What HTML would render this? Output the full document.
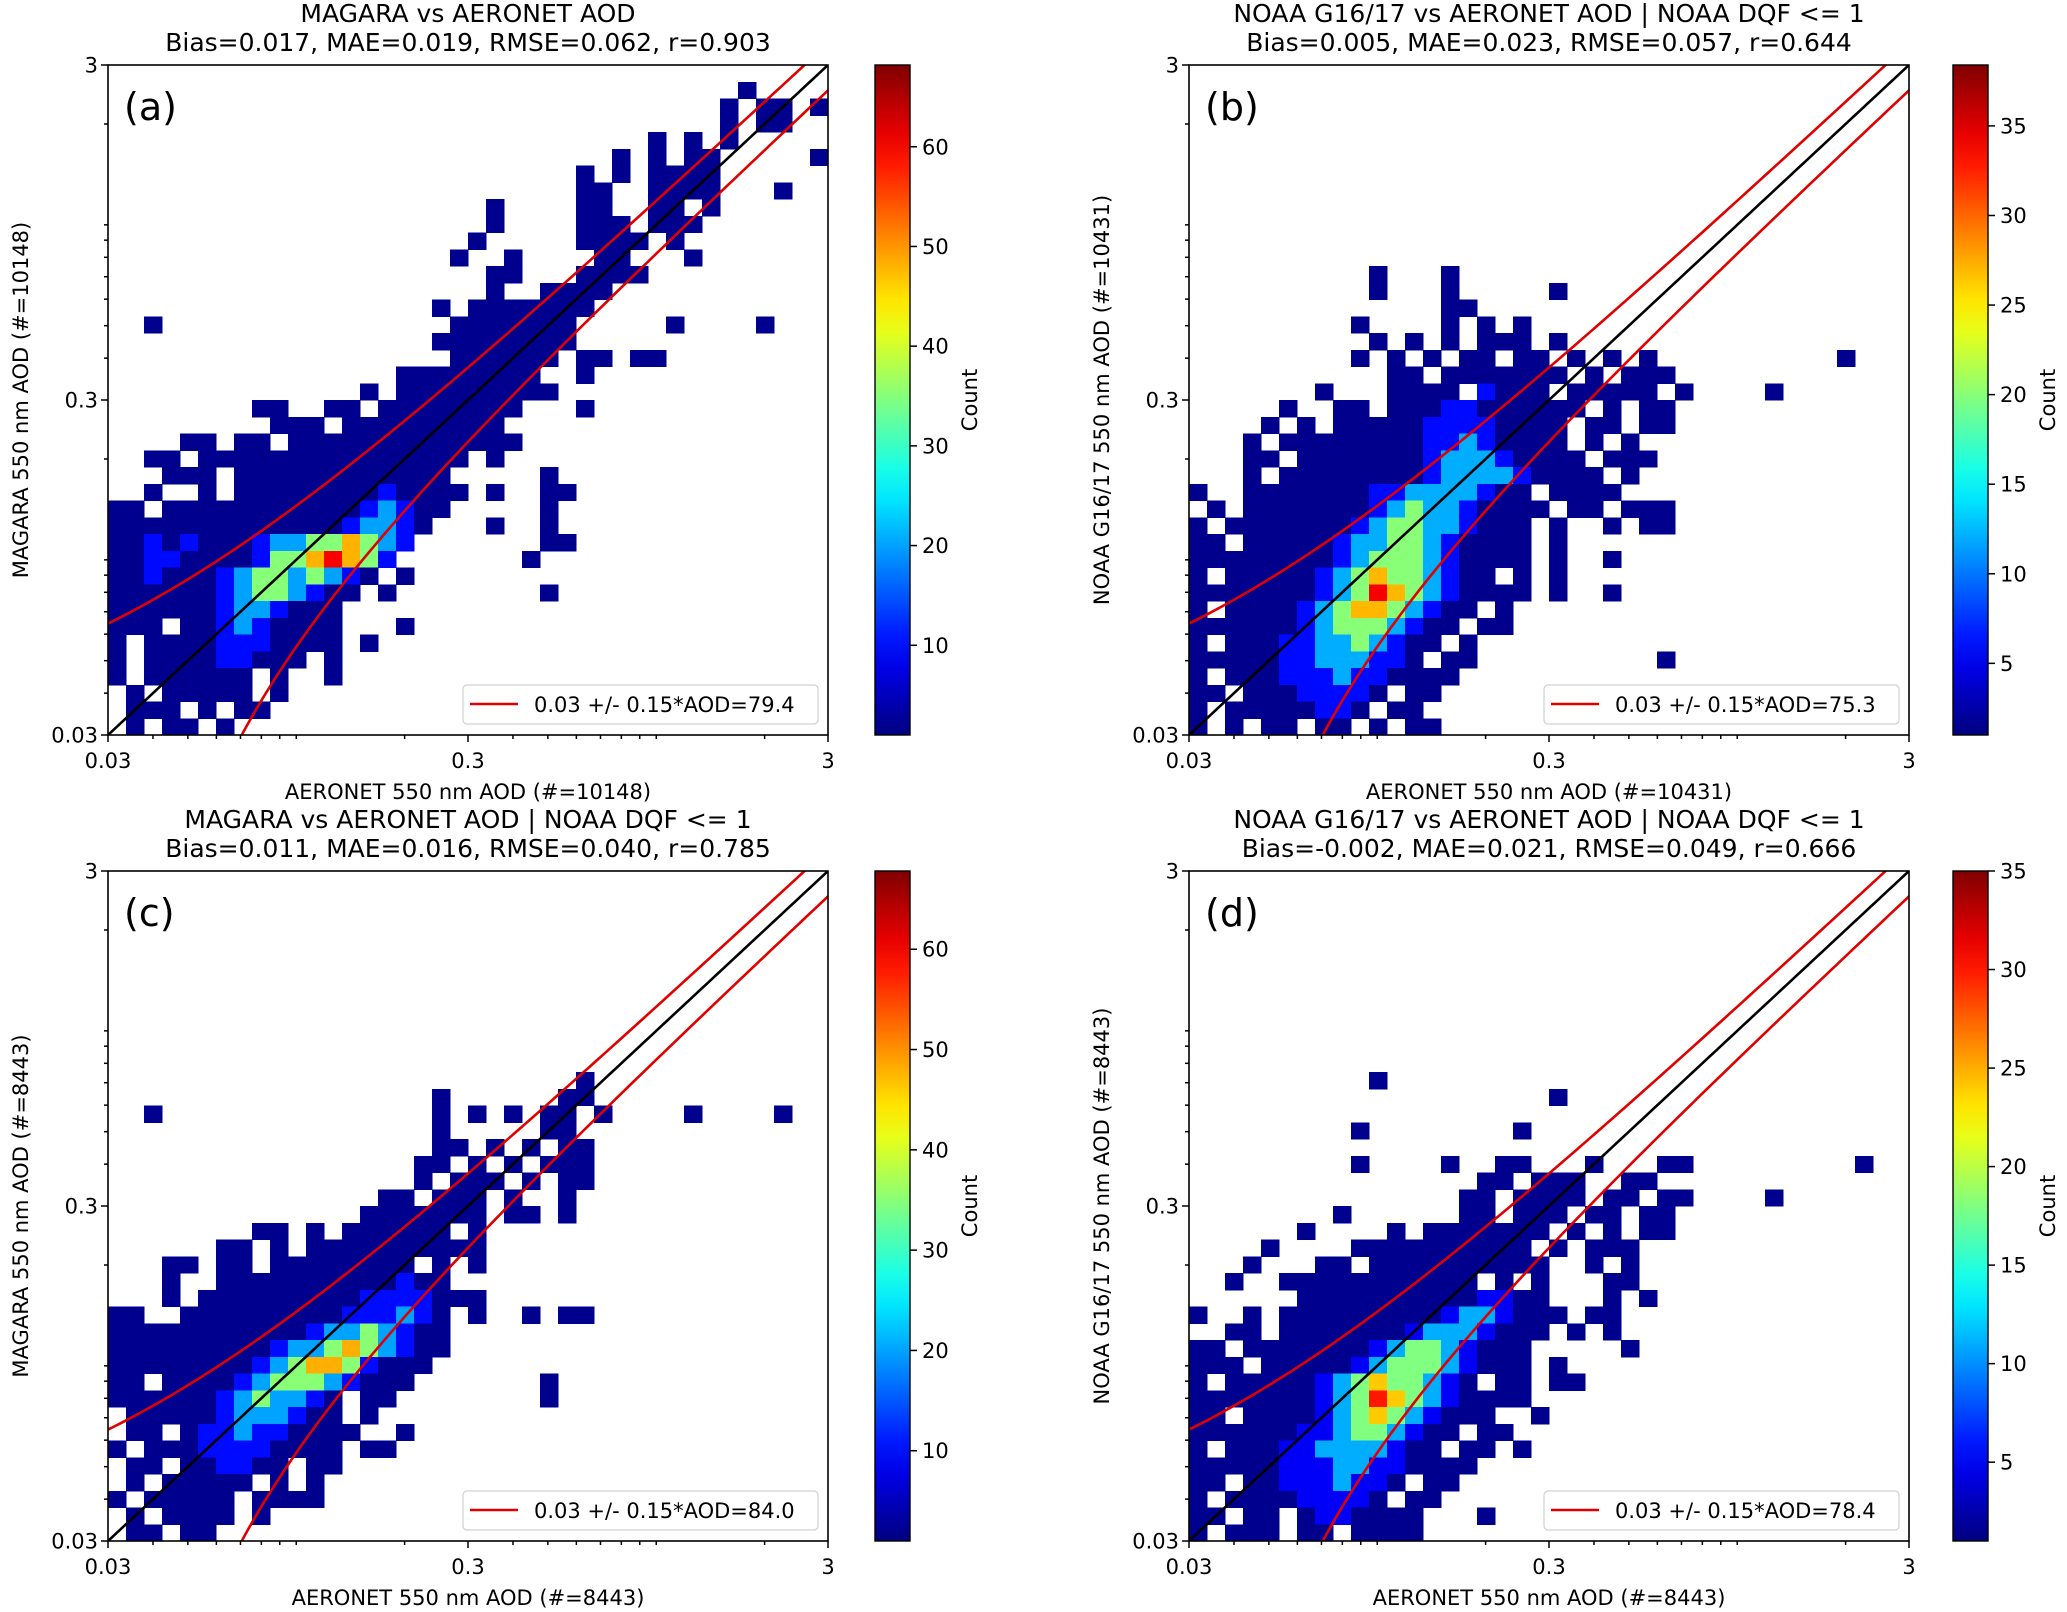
<!DOCTYPE html>
<html><head><meta charset="utf-8">
<style>
html,body{margin:0;padding:0;background:#fff;}
svg{display:block;}
text{font-family:"DejaVu Sans","Liberation Sans",sans-serif;fill:#000;}
</style></head>
<body>
<svg id="fig" width="2067" height="1612" viewBox="0 0 2067 1612" xmlns="http://www.w3.org/2000/svg"></svg>
<script>
// ---------- data (density grids: 40x40 log bins, row 0 = top) ----------
const gridA = [
"........................................",
"...................................1....",
"..................................1.11.1",
"..................................1.11..",
"..............................1.1.1.....",
"............................1.1.11.....1",
"..........................1.1.1111......",
"..........................11..1111...1..",
".....................1....11..11.1......",
".....................1....111.111.......",
"....................1.....1111.1........",
"...................1..1....11...1.......",
".....................11...1111..........",
".....................1..1111............",
"..................1.1111111.............",
"..1................1111111.....1....1...",
"..................11111111..............",
"...................111111.11.11.........",
"................11111111..1.............",
"..............1.111111111...............",
"........11..11.11111111...1.............",
".........111.111111111..................",
"....11.11.1111111111111.................",
"..11.111111111111111.1..................",
"...111.111111111111.....1...............",
"..1..1.1111111121111.1..11..............",
"11.1111111111123211.....1...............",
"111111111111123321...1..1...............",
"11212111233445432.......11..............",
"1122111124456542.......1................",
"112111234434321.1.......................",
"11111123443211.1........1...............",
"1111112332111...........................",
"111.112321111...1.......................",
"1.11112221111.1.........................",
"1.111122111.1...........................",
"1.111111.1..1...........................",
".1.11111.1..............................",
".111.1.11...............................",
".1.11.1................................."
];
const gridB = [
"........................................",
"........................................",
"........................................",
"........................................",
"........................................",
"........................................",
"........................................",
"........................................",
"........................................",
"........................................",
"........................................",
"........................................",
"..........1...1.........................",
"..........1...1.....1...................",
"..............11........................",
".........1....1.1.1.....................",
"..........1.1.1.111.1...................",
".........1.1.1.11.11.1.1.1..........1...",
"...........11.1111111.1.111.............",
".......1...1111.2111.11111.1....1.......",
".....1..11.11122111111.1.11.............",
"....1.1.1111122221111.11.11.............",
"...1.1111111122321111.1.1...............",
"...11.1111111233321111.111..............",
"...1.111111112333321111.1...............",
"1..1111111223333211.1111................",
".1.11111112343321111.11.111.............",
"1.11111112344332111.1..1.11.............",
"11.1111123344321111.1...................",
"1111111123444321111.1..1................",
"1.111112345443211.1.1...................",
"1111111234654321111.1..1................",
"1.11112345543211.1......................",
"111111234443211.11......................",
"1.111223343211.1........................",
"1111122333221.11..........1.............",
"1.1112223221111.........................",
"11.11122221.11..........................",
"1.11111221.11...........................",
"1.1.11.11.1.11.........................."
];
const gridC = [
"........................................",
"........................................",
"........................................",
"........................................",
"........................................",
"........................................",
"........................................",
"........................................",
"........................................",
"........................................",
"........................................",
"........................................",
"..........................1.............",
"..................1......11.............",
"..1...............1.1.1.11.1....1....1..",
"..................1.....11..............",
"..................11.1.1.11.............",
".................11.1.1.111.............",
".................1.111.1.11.............",
"...............11.111.1..1..............",
"..............1111111.11.1..............",
"........11.1.111111.1...................",
"......11.1.1111111111...................",
"...11.11.11111111.1.1...................",
"...1..1111111111211.....................",
"...1.1111111112222111...................",
"11..111111111222321.1..1.11.............",
"1111111111123343211.....................",
"1111111112334543211.....................",
"111111112345542111......................",
"11.11112344432111.......1...............",
"1111112343321.11........1...............",
".111112333211.1.........................",
".11.1223221111..1.......................",
"1.11122221111.11........................",
".11.112211.11...........................",
".1.11111.1.1............................",
"1.11111.1111............................",
".1.1111.1...............................",
".11.11.................................."
];
const gridD = [
"........................................",
"........................................",
"........................................",
"........................................",
"........................................",
"........................................",
"........................................",
"........................................",
"........................................",
"........................................",
"........................................",
"........................................",
"..........1.............................",
"....................1...................",
"........................................",
".........1........1.....................",
"........................................",
".........1....1..11...1...11.........1..",
"................11.111..11...............",
"...............11.1111.11.11....1.......",
"........1......11.111.11.11.............",
"......1....1.1111111.1.1.11.............",
"....1....1111111111.1.111...............",
"...1...11.1111111111..1.1...............",
"..1..11111111111.1.1...11...............",
"......11111111112211...1.1..............",
"1..1.1111111112332111.11................",
"..11.111111123332111.1.1................",
"11.1111111234432111.....1...............",
"111.111112344432111.1...................",
"1.11111234544321.11.11..................",
"1111111234654321111.....................",
"11.11112345432111..1....................",
"111111223443211.11......................",
"1.111223333211.11.1.....................",
"1111122233221111........................",
"11.112223221.11.........................",
"1.111122221.11..........................",
"11.11.1221111...1.......................",
"1.111.11.1111..........................."
];
// count represented by each density level (0-6) per panel
const levelCountsA = [0, 2, 10, 20, 35, 48, 60];
const levelCountsB = [0, 1.5, 6, 12, 20, 27, 34];
const levelCountsC = [0, 2, 10, 20, 35, 48, 60];
const levelCountsD = [0, 1.5, 5, 11, 18, 24, 30];
// colorbar ranges and ticks
const cbarRangeA = [1, 68.2];
const cbarRangeB = [1, 38.4];
const cbarRangeC = [1, 67.8];
const cbarRangeD = [1, 35];
const cbarTicksA = [10, 20, 30, 40, 50, 60];
const cbarTicksB = [5, 10, 15, 20, 25, 30, 35];
const cbarTicksC = [10, 20, 30, 40, 50, 60];
const cbarTicksD = [5, 10, 15, 20, 25, 30, 35];
// axis ticks (log scale)
const axisRange = [0.03, 3];
const majorTicks = [0.03, 0.3, 3];
const majorTickLabels = ["0.03", "0.3", "3"];
const minorTicks = [0.04, 0.05, 0.06, 0.07, 0.08, 0.09, 0.1, 0.2, 0.4, 0.5, 0.6, 0.7, 0.8, 0.9, 1, 2];
// envelope: 0.03 +/- 0.15*AOD
const envOffset = 0.03;
const envSlope = 0.15;
const legendPctA = "79.4", legendPctB = "75.3", legendPctC = "84.0", legendPctD = "78.4";
const titles1 = ["MAGARA vs AERONET AOD", "NOAA G16/17 vs AERONET AOD | NOAA DQF <= 1", "MAGARA vs AERONET AOD | NOAA DQF <= 1", "NOAA G16/17 vs AERONET AOD | NOAA DQF <= 1"];
const titles2 = ["Bias=0.017, MAE=0.019, RMSE=0.062, r=0.903", "Bias=0.005, MAE=0.023, RMSE=0.057, r=0.644", "Bias=0.011, MAE=0.016, RMSE=0.040, r=0.785", "Bias=-0.002, MAE=0.021, RMSE=0.049, r=0.666"];
const xLabels = ["AERONET 550 nm AOD (#=10148)", "AERONET 550 nm AOD (#=10431)", "AERONET 550 nm AOD (#=8443)", "AERONET 550 nm AOD (#=8443)"];
const yLabels = ["MAGARA 550 nm AOD (#=10148)", "NOAA G16/17 550 nm AOD (#=10431)", "MAGARA 550 nm AOD (#=8443)", "NOAA G16/17 550 nm AOD (#=8443)"];
const panelLetters = ["(a)", "(b)", "(c)", "(d)"];

// ---------- rendering ----------
const NS = "http://www.w3.org/2000/svg";
const fig = document.getElementById("fig");
function mk(tag, attrs, parent) {
  const e = document.createElementNS(NS, tag);
  for (const k in attrs) e.setAttribute(k, attrs[k]);
  (parent || fig).appendChild(e);
  return e;
}
function jet(t) {
  t = Math.max(0, Math.min(1, t));
  const c = v => Math.round(255 * Math.max(0, Math.min(1, v)));
  return "rgb(" + c(1.5 - Math.abs(4 * t - 3)) + "," + c(1.5 - Math.abs(4 * t - 2)) + "," + c(1.5 - Math.abs(4 * t - 1)) + ")";
}
const geoms = [
  {L: 108, T: 65, cbX: 875},
  {L: 1189, T: 65, cbX: 1953},
  {L: 108, T: 871, cbX: 875},
  {L: 1189, T: 871, cbX: 1953}
];
const W = 720, H = 670, CBW = 35;
const grids = [gridA, gridB, gridC, gridD];
const levels = [levelCountsA, levelCountsB, levelCountsC, levelCountsD];
const ranges = [cbarRangeA, cbarRangeB, cbarRangeC, cbarRangeD];
const cticks = [cbarTicksA, cbarTicksB, cbarTicksC, cbarTicksD];
const pcts = [legendPctA, legendPctB, legendPctC, legendPctD];
const names = ["a", "b", "c", "d"];

const defs = mk("defs", {});
(function () {
  const g = mk("linearGradient", {id: "jetgrad", x1: "0", y1: "1", x2: "0", y2: "0"}, defs);
  for (let i = 0; i <= 20; i++) mk("stop", {offset: (i / 20), "stop-color": jet(i / 20)}, g);
})();

geoms.forEach((gm, p) => {
  const L = gm.L, T = gm.T;
  const lmin = Math.log10(axisRange[0]), lspan = Math.log10(axisRange[1]) - lmin;
  const xs = v => L + (Math.log10(v) - lmin) / lspan * W;
  const ys = v => T + H - (Math.log10(v) - lmin) / lspan * H;
  const grp = mk("g", {});
  
  

  const cp = mk("clipPath", {id: "clip" + p}, defs);
  mk("rect", {x: L, y: T, width: W, height: H}, cp);

  // heatmap
  const hm = mk("g", {"clip-path": "url(#clip" + p + ")", "shape-rendering": "crispEdges"}, grp);
  
  
  const grid = grids[p], nr = grid.length, nc = 40;
  const [vmin, vmax] = ranges[p];
  for (let r = 0; r < nr; r++) {
    const row = grid[r];
    for (let c = 0; c < nc; c++) {
      const ch = row[c];
      if (!ch || ch === ".") continue;
      const cnt = levels[p][+ch];
      const x0 = xs(Math.pow(10, lmin + c * lspan / nc)), x1 = xs(Math.pow(10, lmin + (c + 1) * lspan / nc));
      const y0 = ys(Math.pow(10, lmin + lspan - r * lspan / nr)), y1 = ys(Math.pow(10, lmin + lspan - (r + 1) * lspan / nr));
      const cell = mk("rect", {x: x0, y: y0, width: x1 - x0 + 0.5, height: y1 - y0 + 0.5, fill: jet((cnt - vmin) / (vmax - vmin))}, hm);
      
      
    }
  }

  // lines
  const lines = mk("g", {"clip-path": "url(#clip" + p + ")"}, grp);
  const N = 200;
  let one = "", up = "", lo = "";
  for (let i = 0; i <= N; i++) {
    const v = Math.pow(10, lmin + lspan * i / N);
    one += (i ? "L" : "M") + xs(v).toFixed(2) + "," + ys(v).toFixed(2);
    up += (i ? "L" : "M") + xs(v).toFixed(2) + "," + ys(v + envOffset + envSlope * v).toFixed(2);
  }
  let started = false;
  for (let i = 0; i <= N; i++) {
    const v = Math.pow(10, lmin + lspan * i / N);
    const yv = v - envOffset - envSlope * v;
    if (yv <= 0.02) continue;
    lo += (started ? "L" : "M") + xs(v).toFixed(2) + "," + ys(yv).toFixed(2);
    started = true;
  }
  const l1 = mk("path", {d: one, stroke: "#000", "stroke-width": 2.6, fill: "none"}, lines);
  
  
  const l2 = mk("path", {d: up, stroke: "#e00000", "stroke-width": 2.6, fill: "none"}, lines);
  
  
  const l3 = mk("path", {d: lo, stroke: "#e00000", "stroke-width": 2.6, fill: "none"}, lines);
  
  

  // frame
  const fr = mk("rect", {x: L, y: T, width: W, height: H, fill: "none", stroke: "#000", "stroke-width": 1.6}, grp);
  
  

  // ticks
  const tk = mk("g", {stroke: "#000", "stroke-width": 1.5}, grp);
  
  
  majorTicks.forEach((v, i) => {
    mk("line", {x1: xs(v), x2: xs(v), y1: T + H, y2: T + H + 7}, tk);
    mk("line", {x1: L, x2: L - 7, y1: ys(v), y2: ys(v)}, tk);
    const xl = mk("text", {x: xs(v), y: T + H + 33, "font-size": 21, "text-anchor": "middle"}, grp);
    xl.textContent = majorTickLabels[i];
    
    
    const yl = mk("text", {x: L - 10, y: ys(v) + 7.5, "font-size": 21, "text-anchor": "end"}, grp);
    yl.textContent = majorTickLabels[i];
    
    
  });
  minorTicks.forEach(v => {
    mk("line", {x1: xs(v), x2: xs(v), y1: T + H, y2: T + H + 4}, tk);
    mk("line", {x1: L, x2: L - 4, y1: ys(v), y2: ys(v)}, tk);
  });

  // texts
  const t1 = mk("text", {x: L + W / 2, y: T - 43, "font-size": 25, "text-anchor": "middle"}, grp);
  t1.textContent = titles1[p];
  
  
  const t2 = mk("text", {x: L + W / 2, y: T - 14, "font-size": 25, "text-anchor": "middle"}, grp);
  t2.textContent = titles2[p];
  
  
  const xlab = mk("text", {x: L + W / 2, y: T + H + 64, "font-size": 21, "text-anchor": "middle"}, grp);
  xlab.textContent = xLabels[p];
  
  
  const ylx = L - 80, yly = T + H / 2;
  const ylab = mk("text", {x: ylx, y: yly, "font-size": 21, "text-anchor": "middle", transform: "rotate(-90 " + ylx + " " + yly + ")"}, grp);
  ylab.textContent = yLabels[p];
  
  
  const let_ = mk("text", {x: L + 16, y: T + 55, "font-size": 38}, grp);
  let_.textContent = panelLetters[p];
  
  

  // legend
  const lg = mk("g", {}, grp);
  
  
  mk("rect", {x: L + 355, y: T + 620, width: 355, height: 39, rx: 4, fill: "#fff", "fill-opacity": 0.85, stroke: "#d0d0d0", "stroke-width": 1.2}, lg);
  const ll = mk("line", {x1: L + 362, x2: L + 410, y1: T + 639, y2: T + 639, stroke: "#e00000", "stroke-width": 2.6}, lg);
  
  
  const lt = mk("text", {x: L + 426, y: T + 647, "font-size": 21}, lg);
  lt.textContent = "0.03 +/- 0.15*AOD=" + pcts[p];
  
  

  // colorbar
  const cb = mk("g", {}, grp);
  
  
  mk("rect", {x: gm.cbX, y: T, width: CBW, height: H, fill: "url(#jetgrad)", stroke: "#000", "stroke-width": 1.4}, cb);
  const cy = v => T + H - (v - vmin) / (vmax - vmin) * H;
  cticks[p].forEach(v => {
    mk("line", {x1: gm.cbX + CBW, x2: gm.cbX + CBW + 7, y1: cy(v), y2: cy(v), stroke: "#000", "stroke-width": 1.5}, cb);
    const ct = mk("text", {x: gm.cbX + CBW + 12, y: cy(v) + 7.5, "font-size": 21}, cb);
    ct.textContent = String(v);
    
    
  });
  const clx = gm.cbX + 102, cly = T + H / 2;
  const cl = mk("text", {x: clx, y: cly, "font-size": 21, "text-anchor": "middle", transform: "rotate(-90 " + clx + " " + cly + ")"}, cb);
  cl.textContent = "Count";
  
  
});
</script>
</body></html>
